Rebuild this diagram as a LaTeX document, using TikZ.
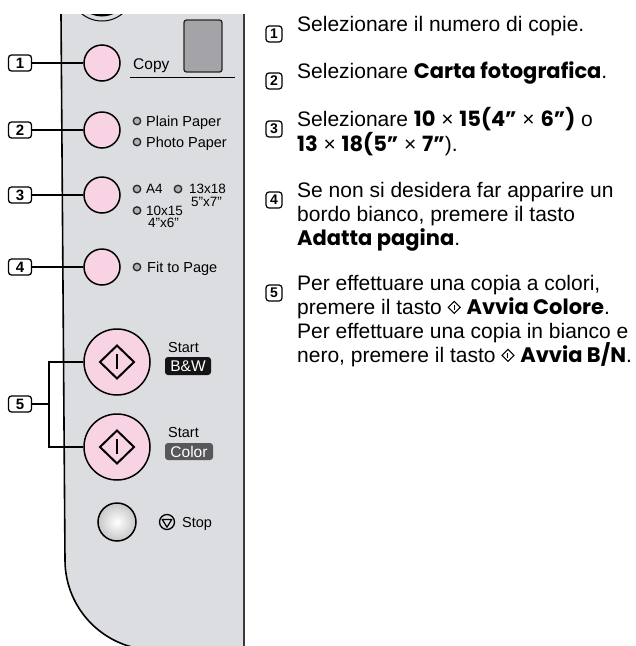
\documentclass[tikz,border=0pt]{standalone}
\usepackage{fontspec}
\usetikzlibrary{calc}
\setmainfont{Liberation Sans}
\newfontfamily\popfont{Poppins}
\definecolor{panelgray}{HTML}{DCDDE0}
\definecolor{btnpink}{HTML}{F8D3E4}
\definecolor{dispgray}{HTML}{A4A4A8}
\definecolor{edgegray}{HTML}{3A3A3C}
\definecolor{colorbox}{HTML}{58585A}
\newcommand\bld[1]{{\popfont\fontseries{sb}\selectfont #1}}
\newcommand\startsym{\tikz[baseline=-0.6ex,x=1pt,y=1pt]{\draw[line width=1pt,line join=miter] (0,-6)--(6,0)--(0,6)--(-6,0)--cycle; \draw[line width=1pt] (0,-2.8)--(0,2.8);}}
\tikzset{
  btn/.style={circle, draw=black, line width=1.5pt, fill=btnpink, inner sep=0pt},
  numbox/.style={draw=black, line width=1.3pt, fill=white, rounded corners=3pt, inner sep=0pt, minimum width=23pt, minimum height=16pt, font=\fontsize{15}{15}\selectfont\bfseries},
  rnum/.style={draw=black, line width=1.2pt, fill=white, rounded corners=3pt, inner sep=0pt, minimum width=16pt, minimum height=16pt, font=\fontsize{14}{14}\selectfont\bfseries},
  lbl/.style={anchor=base west, inner sep=0pt, font=\fontsize{14.5}{15}\selectfont},
  slbl/.style={anchor=base west, inner sep=0pt, font=\fontsize{13.5}{14}\selectfont},
  dot/.style={circle, draw=black!85, line width=1.3pt, fill=panelgray!80!black, minimum size=7.5pt, inner sep=0pt},
  txt/.style={anchor=base west, inner sep=0pt, font=\fontsize{21}{24}\selectfont},
  conn/.style={line width=1.5pt, draw=black}
}
\begin{document}
\begin{tikzpicture}[x=1pt,y=-1pt]
\useasboundingbox (0,0) rectangle (636,646);
% panel
\begin{scope}
\clip (0,14) rectangle (300,646);
\fill[panelgray] (61,14) -- (65,560) arc[start angle=180, end angle=90, radius=90] -- (244,650) -- (244,14) -- cycle;
\draw[line width=1.6pt] (61,14) -- (65,560) arc[start angle=180, end angle=90, radius=90] -- (170,650);
\draw[line width=1pt] (102,-11) circle (32);
\draw[line width=3pt] (102,-11) circle (26);
\end{scope}
\draw[line width=2.8pt, edgegray] (244,14) -- (244,646);
% display
\node[draw=black!85, fill=dispgray, line width=1.3pt, rounded corners=2.5pt, minimum width=38pt, minimum height=52pt, inner sep=0pt] (disp) at (203,46) {};
\node[lbl, font=\fontsize{15.5}{16}\selectfont] (copy) at (133,69) {Copy};
\coordinate (ul1) at (130,77);
\coordinate (ul2) at (235,77);
\draw[line width=0.8pt] (ul1) -- (ul2);
% buttons
\node[btn, minimum size=36pt] (b1) at (102,63) {};
\node[btn, minimum size=36pt] (b2) at (102,130) {};
\node[btn, minimum size=36pt] (b3) at (102,195) {};
\node[btn, minimum size=36pt] (b4) at (102,267) {};
\node[btn, minimum size=66pt] (bw) at (117,362) {};
\node[btn, minimum size=66pt] (col) at (117,447) {};
\node[circle, draw=black, line width=1.5pt, inner color=white, outer color=black!22, minimum size=38pt, inner sep=0pt] (stop) at (117,522) {};
% start symbols
\foreach \c in {bw,col}{
  \draw[line width=2pt, line join=miter] ($(\c)+(0,-16.5)$) -- ++(17,16.5) -- ++(-17,16.5) -- ++(-17,-16.5) -- cycle;
  \draw[line width=2pt] ($(\c)+(0,-8)$) -- ++(0,15);
}
% labels
\node[dot] (d2a) at (137,121) {};
\node[lbl] (l2a) at (146,126) {Plain Paper};
\node[dot] (d2b) at (137,142) {};
\node[lbl] (l2b) at (146,147) {Photo Paper};
\node[dot] (d3a) at (137,189) {};
\node[slbl] (l3a) at (146,193.5) {A4};
\node[dot] (d3b) at (178,189) {};
\node[slbl] (l3b) at (189,193.5) {13x18};
\node[slbl] (l3c) at (191,206) {5"x7"};
\node[dot] (d3c) at (137,210.5) {};
\node[slbl] (l3d) at (146,215) {10x15};
\node[slbl] (l3e) at (148,227.5) {4"x6"};
\node[dot] (d4) at (137,267) {};
\node[lbl] (l4) at (147,272) {Fit to Page};
\node[lbl] (s1) at (168,352) {Start};
\node[fill=black!92, rounded corners=3pt, minimum width=46pt, minimum height=18pt, inner sep=0pt, text=white, font=\fontsize{15.5}{16}\selectfont] (bwl) at (188,366) {B\&W};
\node[lbl] (s2) at (168,437) {Start};
\node[fill=colorbox, rounded corners=3pt, minimum width=48pt, minimum height=17pt, inner sep=0pt, text=white, font=\fontsize{15.5}{16}\selectfont] (coll) at (189,451.5) {Color};
\node[circle, draw=black, line width=1.3pt, minimum size=15pt, inner sep=0pt] (stopsym) at (167,522) {};
\draw[line width=1.2pt, line join=round] ($(stopsym)+(-4.8,-2.6)$) -- ($(stopsym)+(4.8,-2.6)$) -- ($(stopsym)+(0,5.2)$) -- cycle;
\node[lbl] (stopl) at (182,527) {Stop};
% number boxes left
\node[numbox] (n1) at (20,63) {1};
\node[numbox] (n2) at (20,130) {2};
\node[numbox] (n3) at (20,195) {3};
\node[numbox] (n4) at (20,267) {4};
\node[numbox] (n5) at (20,404) {5};
\draw[conn] (n1) -- (b1);
\draw[conn] (n2) -- (b2);
\draw[conn] (n3) -- (b3);
\draw[conn] (n4) -- (b4);
\coordinate (j5) at (49,404);
\draw[conn] (n5) -- (j5);
\draw[conn] (bw.west) -| (j5);
\draw[conn] (col.west) -| (j5);
% right text
\node[rnum] (r1) at (274,34) {1};
\node[txt] (t1) at (297,31) {Selezionare il numero di copie.};
\node[rnum] (r2) at (274,81) {2};
\node[txt] (t2) at (297,78) {Selezionare \bld{Carta fotografica}.};
\node[rnum] (r3) at (274,129) {3};
\node[txt] (t3a) at (297,126) {Selezionare \bld{10} × \bld{15(4”} × \bld{6”)} o};
\node[txt] (t3b) at (297,151) {\bld{13} × \bld{18(5”} × \bld{7”}).};
\node[rnum] (r4) at (274,200) {4};
\node[txt] (t4a) at (297,197) {Se non si desidera far apparire un};
\node[txt] (t4b) at (297,221) {bordo bianco, premere il tasto};
\node[txt] (t4c) at (297,245) {\bld{Adatta pagina}.};
\node[rnum] (r5) at (274,293) {5};
\node[txt] (t5a) at (297,290) {Per effettuare una copia a colori,};
\node[txt] (t5b) at (297,314) {premere il tasto \startsym{} \bld{Avvia Colore}.};
\node[txt] (t5c) at (297,338) {Per effettuare una copia in bianco e};
\node[txt] (t5d) at (297,362) {nero, premere il tasto \startsym{} \bld{Avvia B/N}.};
\end{tikzpicture}
\end{document}
